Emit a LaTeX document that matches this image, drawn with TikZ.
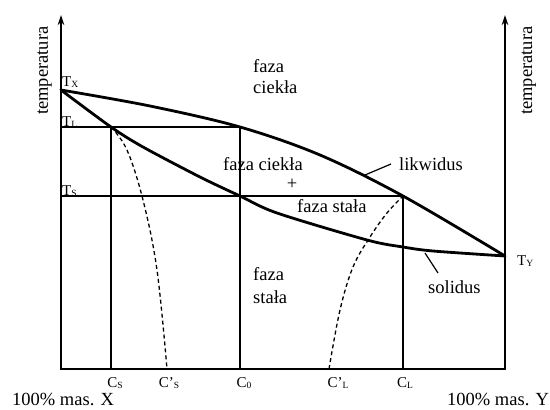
\documentclass[tikz,border=0pt]{standalone}
\usepackage{fontspec}
\setmainfont{Liberation Serif}
\usetikzlibrary{arrows.meta}
\newcommand{\mysub}[1]{\raisebox{-1.4pt}{\fontsize{9.5}{10}\selectfont #1}}
\begin{document}
\begin{tikzpicture}[x=1pt,y=-1pt,
  axisline/.style={line width=1.8pt,line join=miter},
  curve/.style={line width=2.8pt,line join=round,line cap=round},
  guide/.style={line width=1.2pt},
  dashcurve/.style={line width=1.3pt,dash pattern=on 4pt off 3pt},
  leader/.style={line width=1.2pt},
  lbl/.style={font=\fontsize{18.5}{21.5}\selectfont,inner sep=0pt},
  sym/.style={font=\fontsize{15}{17}\selectfont,inner sep=0pt}]
\useasboundingbox (0,0) rectangle (550,410);
% key points
\coordinate (YL) at (61,15);
\coordinate (O) at (61,369);
\coordinate (E) at (505,369);
\coordinate (YR) at (505,15);
\coordinate (TX) at (61,90);
\coordinate (TY) at (505,256);
\coordinate (TLa) at (61,127);
\coordinate (TSa) at (61,196);
\coordinate (P1) at (111,127);
\coordinate (P2) at (240,127);
\coordinate (P3) at (240,196);
\coordinate (P4) at (403,196);
\coordinate (CSb) at (111,369);
\coordinate (C0b) at (240,369);
\coordinate (CLb) at (403,369);
\coordinate (CSpb) at (167,369);
\coordinate (CLpb) at (329,369);
% axes
\draw[axisline,{Stealth[length=10pt,width=6.5pt]}-{Stealth[length=10pt,width=6.5pt]}] (YL) -- (O) -- (E) -- (YR);
% guide lines
\draw[guide] (TLa) -- (P2);
\draw[guide] (TSa) -- (P4);
\draw[guide] (P1) -- (CSb);
\draw[guide] (P2) -- (C0b);
\draw[guide] (P4) -- (CLb);
% liquidus
\draw[curve] plot[smooth,tension=0.55] coordinates {(61,90) (150,106) (240,127) (320,155) (403,196) (505,256)};
% solidus
\draw[curve] plot[smooth,tension=0.5] coordinates {(61,90) (111,127) (143,147) (200,177) (240,196) (277,213) (367,240) (403,247) (433,251) (505,256)};
% dashed curves
\draw[dashcurve] plot[smooth,tension=0.6] coordinates {(111,127) (127,150) (143,200) (157,270) (167,369)};
\draw[dashcurve] plot[smooth,tension=0.6] coordinates {(329,369) (340,310) (353,267) (370,237) (387,213) (403,196)};
% leaders
\coordinate (lk1) at (365,175);
\coordinate (lk2) at (391,164);
\coordinate (sl1) at (425,253);
\coordinate (sl2) at (438,273);
\draw[leader] (lk1) -- (lk2);
\draw[leader] (sl1) -- (sl2);
% axis labels
\node[lbl,rotate=90,anchor=base west] (templ) at (48,115) {temperatura};
\node[lbl,rotate=90,anchor=base west] (tempr) at (532,115) {temperatura};
\node[sym,anchor=base west] (tx) at (62,86) {T\mysub{X}};
\node[sym,anchor=base west] (tl) at (62,126) {T\mysub{L}};
\node[sym,anchor=base west] (ts) at (62,195) {T\mysub{S}};
\node[sym,anchor=base west] (ty) at (517,265) {T\mysub{Y}};
\node[sym,anchor=base] (cs) at (115,387) {C\mysub{S}};
\node[sym,anchor=base] (csp) at (169,387) {C’\mysub{S}};
\node[sym,anchor=base] (c0) at (244,387) {C\mysub{0}};
\node[sym,anchor=base] (clp) at (338,387) {C’\mysub{L}};
\node[sym,anchor=base] (cl) at (405,387) {C\mysub{L}};
\node[lbl,anchor=base west] (px) at (12,405) {100\% mas. X};
\node[lbl,anchor=base west] (py) at (447,405) {100\% mas. Y};
% region labels
\node[lbl,anchor=base west] (fc1) at (253,72) {faza};
\node[lbl,anchor=base west] (fc2) at (253,93) {ciekła};
\node[lbl,anchor=base west] (fcm) at (223,170) {faza ciekła};
\node[lbl] (plus) at (292,184) {+};
\node[lbl,anchor=base west] (fsm) at (297,212) {faza stała};
\node[lbl,anchor=base west] (fs1) at (253,280) {faza};
\node[lbl,anchor=base west] (fs2) at (253,303) {stała};
\node[lbl,anchor=base west] (lik) at (399,170) {likwidus};
\node[lbl,anchor=base west] (sol) at (428,293) {solidus};
\end{tikzpicture}
\end{document}
